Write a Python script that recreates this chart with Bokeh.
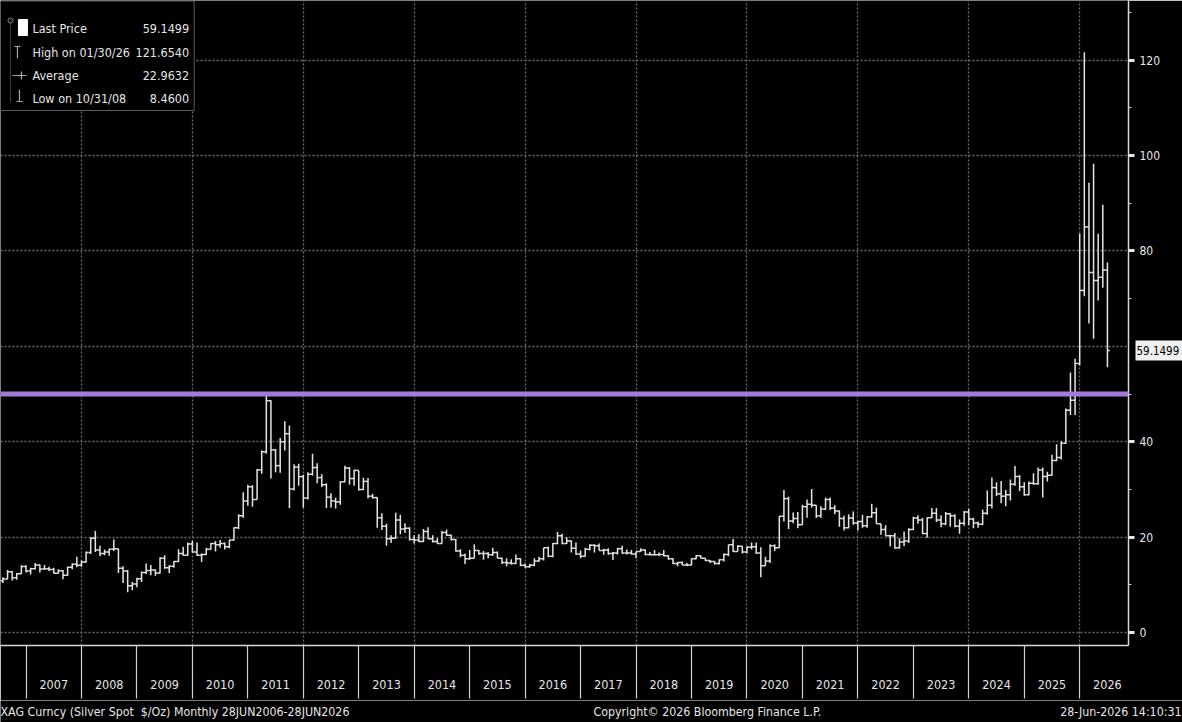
import pandas as pd
from bokeh.plotting import figure
from bokeh.layouts import column
from bokeh.models import (Range1d, FixedTicker, Span, ColumnDataSource, LinearAxis,
                          PrintfTickFormatter)
from bokeh.embed import file_html
from bokeh.resources import INLINE
from bokeh.core.properties import value

# ---------------- data (monthly bars, XAG spot, Jun 2006 .. Jun 2026) ----------------
first_open = 12.40
close = [
    10.85, 11.25, 12.75, 11.50, 12.35, 13.85, 12.90,                              # 2006 Jun-Dec
    13.40, 14.20, 13.35, 13.40, 13.25, 12.45, 12.95, 12.00, 13.70, 14.35, 14.10, 14.80,  # 2007
    16.80, 19.80, 17.30, 16.60, 16.90, 17.50, 17.60, 13.50, 12.90, 9.80, 10.20, 11.30,   # 2008
    12.60, 13.00, 13.10, 12.50, 15.60, 13.60, 13.90, 14.90, 16.60, 16.20, 18.60, 16.90,  # 2009
    16.20, 16.40, 17.50, 18.70, 18.40, 18.70, 18.00, 19.40, 22.00, 24.50, 27.60, 30.60,  # 2010
    27.90, 34.10, 37.90, 48.60, 38.30, 35.00, 40.00, 41.70, 30.10, 34.70, 32.70, 28.20,  # 2011
    33.20, 34.60, 32.50, 31.00, 28.40, 27.60, 27.40, 31.60, 34.50, 32.30, 34.00, 30.00,  # 2012
    31.70, 28.60, 28.30, 24.10, 22.30, 19.70, 19.80, 23.60, 21.70, 21.90, 19.50, 19.40,  # 2013
    19.10, 21.20, 19.70, 19.10, 18.70, 21.00, 20.40, 19.50, 17.10, 16.20, 15.50, 15.60,  # 2014
    17.20, 16.60, 16.60, 16.30, 16.80, 15.60, 14.70, 14.60, 14.50, 15.50, 14.10, 13.80,  # 2015
    14.10, 15.00, 15.50, 17.80, 16.00, 18.70, 20.30, 18.70, 19.20, 17.70, 16.50, 16.00,  # 2016
    17.50, 18.30, 18.20, 17.20, 17.30, 16.60, 16.70, 17.60, 16.70, 16.70, 16.50, 17.00,  # 2017
    17.30, 16.40, 16.30, 16.30, 16.40, 16.10, 15.50, 14.50, 14.70, 14.20, 14.20, 15.50,  # 2018
    16.10, 15.60, 15.10, 14.90, 14.50, 15.30, 16.40, 18.40, 17.00, 18.10, 16.90, 17.90,  # 2019
    18.00, 16.70, 14.00, 15.00, 18.20, 17.80, 24.40, 28.10, 23.40, 23.90, 22.60, 26.40,  # 2020
    26.90, 26.70, 24.50, 25.90, 27.90, 26.10, 25.50, 23.90, 22.00, 24.00, 23.00, 23.30,  # 2021
    22.40, 24.30, 25.10, 22.80, 21.60, 20.30, 20.30, 17.80, 19.00, 19.20, 21.60, 24.00,  # 2022
    23.60, 20.80, 24.10, 25.00, 23.60, 22.80, 24.90, 24.50, 22.30, 22.90, 25.30, 23.80,  # 2023
    23.00, 22.70, 25.00, 26.70, 30.40, 29.10, 28.60, 28.90, 31.10, 32.70, 30.60, 28.90,  # 2024
    31.30, 31.20, 34.10, 32.70, 33.00, 36.10, 36.70, 39.70, 46.60, 48.70, 56.40, 71.70,  # 2025
    85.00, 75.50, 73.80, 74.50, 76.00, 59.1499,                                    # 2026 Jan-Jun
]
high = [
    12.60, 11.60, 13.10, 12.90, 12.50, 14.10, 14.10,
    13.60, 14.60, 14.30, 14.20, 13.80, 13.60, 13.30, 13.10, 13.80, 14.50, 15.90, 15.10,
    17.00, 20.00, 21.30, 18.20, 17.40, 17.60, 19.50, 17.60, 13.90, 13.10, 10.60, 11.50,
    12.80, 14.50, 14.20, 13.20, 15.80, 16.20, 14.10, 15.00, 17.50, 18.00, 18.90, 19.20,
    18.90, 16.60, 17.80, 18.80, 19.20, 19.40, 18.90, 19.40, 22.10, 24.80, 29.40, 31.00,
    30.90, 34.30, 38.20, 49.80, 48.70, 38.50, 40.80, 44.30, 43.40, 35.30, 35.40, 33.10,
    33.60, 37.50, 35.50, 33.20, 31.30, 29.20, 28.30, 31.70, 35.00, 34.70, 34.20, 34.00,
    32.50, 32.40, 29.10, 28.40, 25.00, 22.80, 20.40, 25.10, 24.70, 22.90, 22.10, 20.40,
    20.60, 21.70, 22.10, 20.40, 19.80, 21.30, 21.60, 20.50, 19.60, 17.50, 16.60, 17.30,
    18.50, 17.30, 17.10, 16.90, 17.80, 17.00, 15.70, 15.60, 15.40, 16.40, 15.60, 14.50,
    14.40, 15.60, 15.90, 17.80, 18.00, 18.80, 21.10, 20.70, 20.00, 19.30, 18.90, 17.20,
    17.80, 18.50, 18.50, 18.70, 17.60, 17.70, 16.90, 17.80, 18.20, 17.40, 17.30, 17.00,
    17.70, 17.40, 16.90, 17.30, 16.80, 17.30, 16.20, 15.60, 14.80, 14.90, 14.60, 15.60,
    16.20, 16.20, 15.60, 15.20, 15.00, 15.40, 16.60, 18.40, 19.60, 18.30, 18.10, 18.10,
    18.90, 18.90, 17.90, 15.90, 18.50, 18.50, 24.40, 29.90, 28.50, 25.20, 25.30, 26.80,
    27.90, 30.10, 26.70, 26.50, 28.30, 28.30, 26.70, 25.60, 24.50, 24.80, 25.40, 23.40,
    24.70, 24.40, 27.00, 26.20, 22.80, 22.50, 20.50, 20.90, 19.80, 21.20, 21.90, 24.30,
    24.60, 24.00, 24.20, 26.10, 26.10, 24.60, 25.30, 25.00, 24.80, 23.70, 25.50, 25.90,
    24.10, 23.30, 25.80, 29.80, 32.50, 31.50, 31.80, 29.90, 32.10, 34.90, 33.00, 31.50,
    31.70, 33.40, 34.60, 34.60, 33.70, 37.30, 39.50, 40.10, 47.00, 54.50, 57.40, 83.60,
    121.654, 94.30, 98.30, 83.60, 89.70, 77.60,
]
low = [
    9.50, 10.40, 11.20, 10.90, 11.10, 12.30, 12.60,
    12.20, 13.30, 12.60, 13.20, 12.90, 12.40, 12.40, 11.20, 11.90, 13.30, 13.70, 13.80,
    14.70, 16.50, 16.90, 16.00, 16.20, 16.10, 17.10, 12.50, 10.40, 8.46, 8.90, 9.50,
    10.60, 12.30, 12.00, 11.90, 12.40, 13.40, 12.50, 13.60, 14.80, 16.10, 16.10, 16.80,
    16.10, 14.80, 16.30, 17.40, 17.00, 17.80, 17.40, 17.70, 19.30, 21.70, 24.10, 26.60,
    26.40, 27.90, 33.30, 37.50, 32.30, 33.60, 33.50, 38.20, 26.10, 29.80, 30.80, 26.20,
    27.90, 32.90, 31.30, 30.50, 26.10, 26.20, 26.00, 26.80, 31.50, 31.00, 30.80, 29.80,
    29.90, 28.10, 28.10, 22.00, 21.50, 18.20, 18.80, 19.70, 20.60, 20.90, 19.30, 18.70,
    19.00, 19.00, 19.60, 18.90, 18.70, 18.70, 20.30, 19.30, 17.00, 15.80, 14.40, 15.30,
    15.60, 16.30, 15.30, 15.60, 16.10, 15.60, 14.40, 13.90, 14.30, 14.40, 13.90, 13.60,
    13.60, 13.90, 14.80, 15.10, 15.80, 15.80, 18.50, 18.50, 18.60, 16.80, 16.30, 15.60,
    15.90, 17.20, 16.80, 17.20, 16.30, 16.30, 15.20, 16.40, 16.50, 16.40, 16.40, 15.60,
    16.90, 16.20, 16.20, 16.20, 16.10, 16.00, 15.30, 14.40, 13.90, 14.20, 13.90, 14.10,
    15.40, 15.60, 15.00, 14.60, 14.30, 14.30, 14.90, 16.00, 16.90, 17.00, 16.60, 16.60,
    17.40, 16.50, 11.60, 14.00, 14.60, 17.10, 17.80, 23.30, 21.70, 22.90, 21.90, 22.60,
    24.10, 26.20, 24.00, 24.10, 25.70, 25.70, 24.80, 22.20, 21.40, 21.90, 22.60, 21.40,
    22.00, 22.00, 24.10, 22.80, 20.50, 20.30, 18.10, 17.60, 17.60, 18.10, 18.80, 21.50,
    22.80, 20.60, 19.90, 24.00, 23.20, 22.10, 22.50, 22.20, 22.10, 20.70, 22.40, 22.50,
    21.90, 22.00, 22.50, 24.70, 26.00, 28.60, 27.10, 26.50, 27.70, 30.80, 29.70, 28.70,
    28.80, 31.00, 31.00, 28.30, 31.70, 32.90, 35.90, 36.30, 39.60, 45.60, 45.60, 56.00,
    70.50, 64.80, 61.60, 69.60, 72.30, 55.60,
]
average_price = 22.9632
resistance_level = 50
year_labels = [str(y) for y in range(2007, 2027)]
y_ticks = [0, 20, 40, 60, 80, 100, 120]
y_label_ticks = [0, 20, 40, 80, 100, 120]      # 60 is hidden behind the last-price tag
y_minor = [10, 30, 50, 70, 90, 110, 130]
legend_names = ["Last Price", "High on 01/30/26", "Average", "Low on 10/31/08"]
footer_left = "XAG Curncy (Silver Spot\u00a0 $/Oz) Monthly 28JUN2006-28JUN2026"
footer_mid = "Copyright\u00a9 2026 Bloomberg Finance L.P."
footer_right = "28-Jun-2026 14:10:31"

# ---------------- geometry ----------------
W, H = 1182, 722
MAIN_H = 700
FW, FH = 1130, 645
X0, X1 = 2006.54, 2026.88
Y0, Y1 = -2.7, 132.5
FONT = "DejaVu Sans Condensed"
FG = "#e6e6e6"


def sx(px):
    return X0 + px / FW * (X1 - X0)


def sy(py):
    return Y1 - py / FH * (Y1 - Y0)


dates = pd.date_range("2006-06-30", periods=len(close), freq="ME")
t = [d.year + d.month / 12.0 for d in dates]
opens = [first_open] + close[:-1]
half = 1.0 / 24.0
src = ColumnDataSource(dict(
    x=t, xl=[v - half for v in t], xr=[v + half for v in t],
    o=opens, h=high, l=low, c=close,
))

p = figure(width=W, height=MAIN_H, output_backend="svg", toolbar_location=None,
           x_range=Range1d(X0, X1), y_range=Range1d(Y0, Y1),
           y_axis_location="right",
           min_border_left=0, min_border_top=0, min_border_right=W - FW,
           min_border_bottom=MAIN_H - FH)
p.background_fill_color = "black"
p.border_fill_color = "black"
p.outline_line_color = None
p.frame_align = False

# grid
p.xgrid.ticker = FixedTicker(ticks=list(range(2008, 2027, 2)))
p.ygrid.ticker = FixedTicker(ticks=y_ticks)
for g in (p.xgrid[0], p.ygrid[0]):
    g.grid_line_color = "#6c6c6c"
    g.grid_line_dash = "2 2"
    g.grid_line_width = 1.3

# x axis: labels mid-year, separators at year boundaries
xa = p.xaxis[0]
years = [int(s) for s in year_labels]
xa.ticker = FixedTicker(ticks=[y + 0.5 for y in years], minor_ticks=years)
xa.major_label_overrides = {y + 0.5: s for y, s in zip(years, year_labels)}
xa.major_tick_line_color = None
xa.major_tick_out = 0
xa.major_tick_in = 0
xa.minor_tick_in = 0
xa.minor_tick_out = 53
xa.minor_tick_line_color = "#cfcfcf"
xa.minor_tick_line_width = 1.2
xa.axis_line_color = "#d8d8d8"
xa.axis_line_width = 1.5
xa.major_label_standoff = -19
xa.major_label_text_color = FG
xa.major_label_text_font = FONT
xa.major_label_text_font_size = "12.5px"

# y axis on the right
ya = p.yaxis[0]
ya.ticker = FixedTicker(ticks=y_label_ticks, minor_ticks=y_minor)
ya.axis_line_color = "#d8d8d8"
ya.axis_line_width = 1.5
ya.major_tick_out = 6
ya.major_tick_in = 0
ya.major_tick_line_width = 3
ya.major_tick_line_color = "#e8e8e8"
ya.minor_tick_out = 3
ya.minor_tick_in = 0
ya.minor_tick_line_color = "#cfcfcf"
ya.major_label_standoff = 5
ya.major_label_text_color = FG
ya.major_label_text_font = FONT
ya.major_label_text_font_size = "12px"

# last-price tag: an outer right axis whose single thick tick forms the white box
tag = LinearAxis(ticker=FixedTicker(ticks=[close[-1]], minor_ticks=[]),
                 formatter=PrintfTickFormatter(format="%.4f"))
tag.axis_line_color = None
tag.major_tick_line_color = "#f0f0f0"
tag.major_tick_line_width = 20
tag.major_tick_in = 28
tag.major_tick_out = 24
tag.minor_tick_line_color = None
tag.major_label_standoff = -51
tag.major_label_text_color = "black"
tag.major_label_text_font = FONT
tag.major_label_text_font_size = "11.5px"
p.add_layout(tag, "right")

# purple level line
p.add_layout(Span(location=resistance_level, dimension="width",
                  line_color="#a47ad9", line_width=5))

# monthly bars
bar_col = "#e4e4e4"
p.segment(x0="x", y0="l", x1="x", y1="h", source=src, line_color=bar_col, line_width=1.5)
p.segment(x0="xl", y0="o", x1="x", y1="o", source=src, line_color=bar_col, line_width=1.5)
p.segment(x0="x", y0="c", x1="xr", y1="c", source=src, line_color=bar_col, line_width=1.5)

# legend box
p.quad(left=sx(0), right=sx(194), top=sy(0.5), bottom=sy(110),
       fill_color="black", line_color="#5c5c5c", line_width=1)
rows_py = [28, 52, 75, 98]
legend_vals = [f"{close[-1]:.4f}", f"{max(high):.4f}", f"{average_price:.4f}", f"{min(low):.4f}"]
p.text(x=[sx(32)] * 4, y=[sy(v) for v in rows_py], text=legend_names,
       text_font=value(FONT), text_font_size="12.5px", text_color=FG,
       text_baseline="middle", text_align="left")
p.text(x=[sx(189)] * 4, y=[sy(v) for v in rows_py], text=legend_vals,
       text_font=value(FONT), text_font_size="12.5px", text_color=FG,
       text_baseline="middle", text_align="right")
sym = "#a8a8a8"
p.segment(x0=[sx(10)], y0=[sy(20)], x1=[sx(10)], y1=[sy(101)], line_color="#7a7a7a",
          line_width=1, line_dash="1 1")
p.scatter(x=[sx(10)], y=[sy(20)], marker="circle", size=5, fill_color="black",
          line_color="#8a8a8a")
p.quad(left=sx(18), right=sx(27), top=sy(19), bottom=sy(35), fill_color="white",
       line_color="white")
p.segment(x0=[sx(14), sx(17)], y0=[sy(46), sy(46)], x1=[sx(20), sx(17)], y1=[sy(46), sy(58)],
          line_color=sym, line_width=1.2)
p.segment(x0=[sx(12), sx(21)], y0=[sy(75), sy(71)], x1=[sx(26), sx(21)], y1=[sy(75), sy(79)],
          line_color=sym, line_width=1.2)
p.segment(x0=[sx(16), sx(19)], y0=[sy(101), sy(89)], x1=[sx(22), sx(19)], y1=[sy(101), sy(101)],
          line_color=sym, line_width=1.2)

# ---------------- footer strip ----------------
FOOT_H = H - MAIN_H
foot = figure(width=W, height=FOOT_H, output_backend="svg", toolbar_location=None,
              x_range=Range1d(0, W), y_range=Range1d(0, FOOT_H),
              x_axis_location=None, y_axis_location=None, min_border=0)
foot.frame_align = False
foot.grid.visible = False
foot.background_fill_color = "black"
foot.border_fill_color = "black"
foot.outline_line_color = None
fy = FOOT_H / 2.0
FOOT_FS = "12.3px"
foot.text(x=[0], y=[fy], text=[footer_left], text_font=value(FONT), text_font_size=FOOT_FS,
          text_color=FG, text_baseline="middle", text_align="left")
foot.text(x=[593], y=[fy], text=[footer_mid], text_font=value(FONT), text_font_size=FOOT_FS,
          text_color=FG, text_baseline="middle", text_align="left")
foot.text(x=[W - 1], y=[fy], text=[footer_right], text_font=value(FONT), text_font_size=FOOT_FS,
          text_color=FG, text_baseline="middle", text_align="right")

layout = column(p, foot, spacing=0)
open("out.html", "w").write(file_html(layout, INLINE))
